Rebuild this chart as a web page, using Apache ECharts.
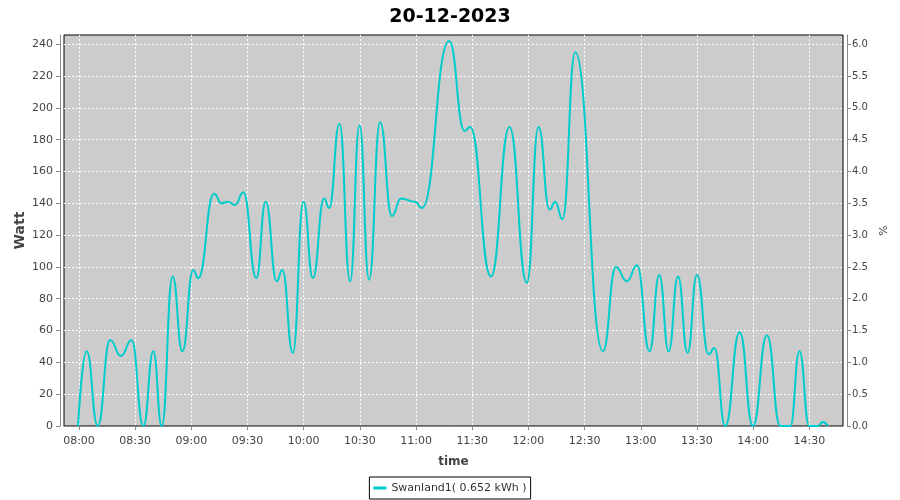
<!DOCTYPE html>
<html>
<head>
<meta charset="utf-8">
<script src="https://cdn.jsdelivr.net/npm/echarts@6/dist/echarts.min.js"></script>
<style>html,body{margin:0;padding:0;background:#fff}#c{width:900px;height:500px}</style>
</head>
<body>
<div id="c"></div>
<script>
// minutes after 08:00 at which the readings were taken
const minutesAfter8 = [-0.5, 4.1, 10, 16.6, 22.4, 28.1, 34.4, 39.7, 44.2, 50, 55.2, 61, 63.7,
  72.1, 76.2, 79.4, 83.3, 87.8, 94.7, 99.7, 105.6, 108.6, 114.2, 119.9, 124.9, 130.9, 133.6,
  139.1, 144.8, 149.8, 154.9, 160.8, 167.1, 172, 179.5, 183.1, 197.7, 205.9, 208.9, 220,
  229.9, 239.2, 245.4, 251.3, 254.3, 258.2, 265, 279.8, 286.7, 292.6, 298, 304.7, 309.9,
  314.9, 319.9, 325, 330, 336.2, 339.3, 345.1, 352.8, 359.9, 367.4, 374.5, 379.9, 384.7,
  390, 394.5, 397.2, 400];
const watts = [0, 47, 0, 54, 44, 54, 0, 47, 0, 94, 47, 98, 93,
  146, 140, 141, 139, 147, 93, 141, 91, 98, 46, 141, 93, 143, 137,
  190, 91, 189, 92, 191, 132, 143, 141, 137, 242, 185.5, 188, 94,
  188, 90, 188, 136, 141, 130, 235, 47, 100, 91, 101, 47, 95,
  47, 94, 46, 95, 45, 49, 0, 59, 0, 57, 0, 0, 47,
  0, 0, 2.5, 0];
const seriesName = 'Swanland1( 0.652 kWh )';
const titleText = '20-12-2023';

const data = minutesAfter8.map((m, i) => [480 + m, watts[i]]);
const FONT = 'DejaVu Sans';
function hhmm(v) {
  const h = Math.floor(v / 60), m = Math.round(v - h * 60);
  return String(h).padStart(2, '0') + ':' + String(m).padStart(2, '0');
}
const chart = echarts.init(document.getElementById('c'), null, {renderer: 'canvas'});
chart.setOption({
  animation: false,
  backgroundColor: '#ffffff',
  title: {
    text: titleText, left: 'center', top: 3,
    textStyle: {fontFamily: FONT, fontWeight: 'bold', fontSize: 19, color: '#000'}
  },
  legend: {
    bottom: 1, left: 'center',
    data: [{name: seriesName, icon: 'rect'}],
    itemWidth: 13, itemHeight: 3,
    padding: [4, 4, 4, 4],
    borderColor: '#000', borderWidth: 1,
    textStyle: {fontFamily: FONT, fontSize: 11, color: '#333', lineHeight: 14}
  },
  grid: {
    left: 64, right: 57, top: 35, bottom: 74,
    outerBoundsMode: 'none', containLabel: false,
    show: true, backgroundColor: '#cccccc', borderColor: '#000', borderWidth: 1
  },
  xAxis: {
    type: 'value', min: 472, max: 888, splitNumber: 14, minInterval: 30, maxInterval: 30,
    offset: 4,
    name: 'time', nameLocation: 'middle', nameGap: 26,
    nameTextStyle: {fontFamily: FONT, fontWeight: 'bold', fontSize: 12, color: '#444'},
    axisLine: {show: true, lineStyle: {color: '#888'}},
    axisTick: {show: true, length: 4, lineStyle: {color: '#888'}},
    axisLabel: {fontFamily: FONT, fontSize: 11, color: '#444', margin: 6,
      showMinLabel: false, showMaxLabel: false, formatter: hhmm},
    splitLine: {show: true, showMinLine: false, showMaxLine: false,
      lineStyle: {color: '#ffffff', type: [2, 2], width: 1}}
  },
  yAxis: [{
    type: 'value', min: 0, max: 245.8, interval: 20, position: 'left', offset: 4,
    name: 'Watt', nameLocation: 'middle', nameGap: 33, nameMoveOverlap: false,
    nameTextStyle: {fontFamily: FONT, fontWeight: 'bold', fontSize: 14, color: '#444'},
    axisLine: {show: true, lineStyle: {color: '#888'}},
    axisTick: {show: true, length: 4, lineStyle: {color: '#888'}},
    axisLabel: {fontFamily: FONT, fontSize: 11, color: '#444', margin: 7, showMaxLabel: false},
    splitLine: {show: true, showMinLine: false, showMaxLine: false,
      lineStyle: {color: '#ffffff', type: [2, 2], width: 1}}
  }, {
    type: 'value', min: 0, max: 6.145, interval: 0.5, position: 'right', offset: 4,
    name: '%', nameLocation: 'middle', nameGap: 30,
    nameTextStyle: {fontFamily: FONT, fontSize: 11, color: '#444'},
    axisLine: {show: true, lineStyle: {color: '#888'}},
    axisTick: {show: true, length: 4, lineStyle: {color: '#888'}},
    axisLabel: {fontFamily: FONT, fontSize: 10, color: '#444', margin: 5, showMaxLabel: false,
      formatter: v => v.toFixed(1)},
    splitLine: {show: false}
  }],
  series: [{
    name: seriesName, type: 'line', data: data, yAxisIndex: 0,
    smooth: 0.5, smoothMonotone: 'x', showSymbol: false, symbol: 'none',
    lineStyle: {color: '#00cccc', width: 2},
    itemStyle: {color: '#00cccc'},
    clip: true
  }]
});
</script>
</body>
</html>
